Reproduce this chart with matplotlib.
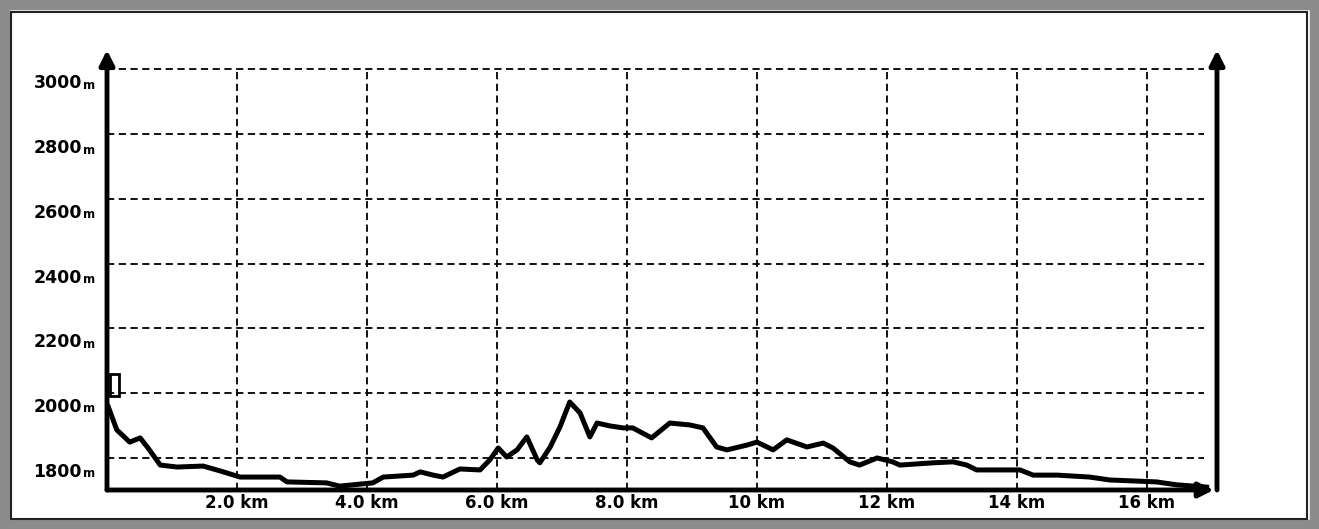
import matplotlib
matplotlib.use("Agg")
import matplotlib.pyplot as plt
from matplotlib.patches import Rectangle

# elevation profile (km, metres)
dist_km = [0.02, 0.15, 0.35, 0.51, 0.62, 0.82, 1.08, 1.48, 1.74, 2.05, 2.66, 2.77,
           3.38, 3.58, 4.09, 4.25, 4.71, 4.82, 5.02, 5.17, 5.43, 5.74, 5.89, 6.02,
           6.15, 6.31, 6.46, 6.62, 6.66, 6.82, 6.97, 7.12, 7.28, 7.43, 7.54, 7.74,
           7.94, 8.09, 8.38, 8.66, 8.97, 9.17, 9.38, 9.54, 9.85, 10.0, 10.25, 10.46,
           10.77, 11.02, 11.17, 11.43, 11.58, 11.85, 12.09, 12.2, 12.71, 13.02, 13.23,
           13.38, 14.05, 14.25, 14.62, 15.12, 15.43, 16.15, 16.46, 16.92]
elev_m = [1957, 1886, 1848, 1861, 1833, 1777, 1771, 1774, 1759, 1740, 1740, 1725,
          1722, 1712, 1722, 1740, 1746, 1756, 1746, 1740, 1765, 1762, 1793, 1830,
          1802, 1824, 1864, 1793, 1784, 1833, 1895, 1972, 1938, 1864, 1907, 1898,
          1892, 1892, 1861, 1907, 1901, 1892, 1833, 1824, 1839, 1848, 1824, 1855,
          1833, 1845, 1830, 1787, 1777, 1799, 1787, 1777, 1784, 1787, 1777,
          1762, 1762, 1746, 1746, 1740, 1731, 1725, 1716, 1709]

x_ticks = [2, 4, 6, 8, 10, 12, 14, 16]
x_labels = ["2.0 km", "4.0 km", "6.0 km", "8.0 km", "10 km", "12 km", "14 km", "16 km"]
y_ticks = [1800, 2000, 2200, 2400, 2600, 2800, 3000]
y_labels = ["1800", "2000", "2200", "2400", "2600", "2800", "3000"]

X_MAX = 17.08
Y_MIN, Y_MAX = 1700, 3060

W, H = 1319, 529
fig = plt.figure(figsize=(W / 100, H / 100), dpi=100)
fig.patch.set_facecolor("white")

# window-like grey frame
fig.patches.append(Rectangle((0, 0), 1, 1, transform=fig.transFigure, fill=False,
                             edgecolor="#8c8c8c", linewidth=14))
fig.patches.append(Rectangle((11 / W, 10 / H), 1 - 23 / W, 1 - 22 / H,
                             transform=fig.transFigure, fill=False,
                             edgecolor="#222222", linewidth=1.5))

ax = fig.add_axes([107 / W, 39 / H, 1110 / W, 440 / H])
ax.set_xlim(0, X_MAX)
ax.set_ylim(Y_MIN, Y_MAX)
ax.axis("off")

dash = (0, (4, 2.5))
ax.vlines(x_ticks, Y_MIN, 3000, colors="black", linestyles=dash, linewidth=1.3)
ax.hlines(y_ticks, 0, X_MAX - 0.2, colors="black", linestyles=dash, linewidth=1.3)

# profile line
ax.plot(dist_km, elev_m, color="black", linewidth=3.6, solid_joinstyle="round")

# start marker
ax.add_patch(Rectangle((0.05, 1992), 0.14, 66, fill=False, edgecolor="black",
                       linewidth=2, clip_on=False))

# axes with arrow heads
arrow = dict(arrowstyle="-|>", color="black", lw=3.5, mutation_scale=22,
             shrinkA=0, shrinkB=0)
ax.annotate("", xy=(0, Y_MAX), xytext=(0, Y_MIN), arrowprops=arrow, annotation_clip=False)
ax.annotate("", xy=(X_MAX - 0.05, Y_MIN), xytext=(0, Y_MIN), arrowprops=arrow,
            annotation_clip=False)
ax.annotate("", xy=(X_MAX, Y_MAX), xytext=(X_MAX, Y_MIN), arrowprops=arrow,
            annotation_clip=False)

# y labels sit a little below their grid lines
for val, lab in zip(y_ticks, y_labels):
    ax.annotate(lab, xy=(0, val), xytext=(-25, -14), textcoords="offset pixels",
                ha="right", va="center", fontsize=12.5, fontweight="bold",
                annotation_clip=False)
    ax.annotate("m", xy=(0, val), xytext=(-24, -16), textcoords="offset pixels",
                ha="left", va="center", fontsize=8.5, fontweight="bold",
                annotation_clip=False)

for val, lab in zip(x_ticks, x_labels):
    ax.annotate(lab, xy=(val, Y_MIN), xytext=(0, -13), textcoords="offset pixels",
                ha="center", va="center", fontsize=12, fontweight="bold",
                annotation_clip=False)

fig.savefig("out.png", dpi=100)
